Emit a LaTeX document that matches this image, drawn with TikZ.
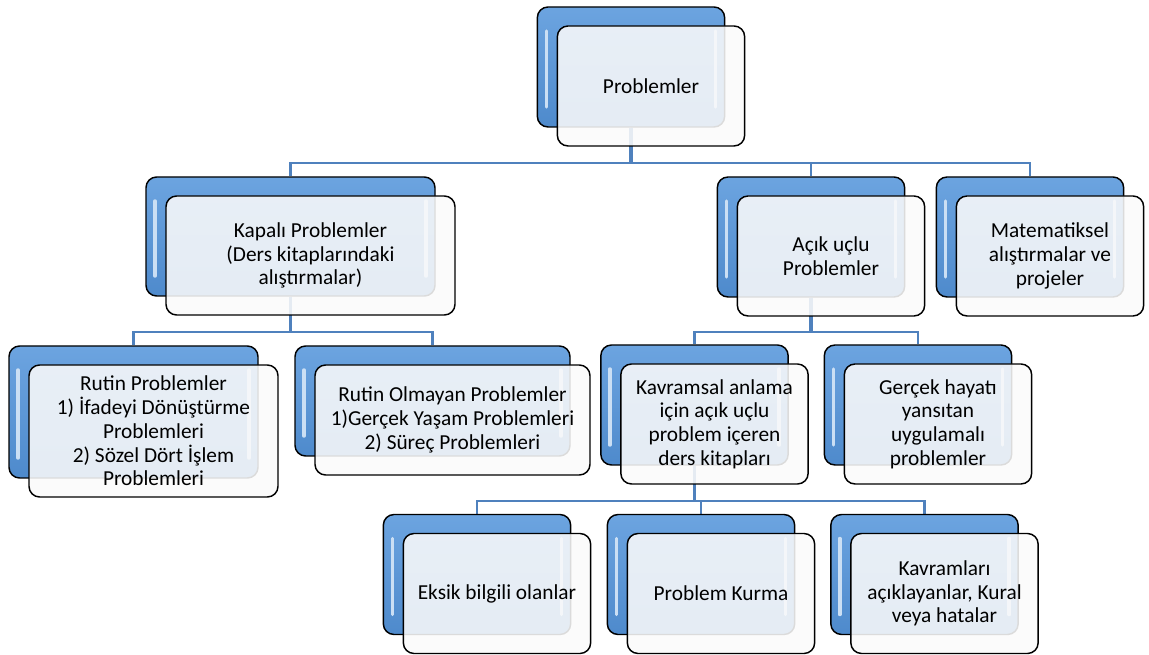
\documentclass[tikz,border=0pt]{standalone}
\usepackage{fontspec}
\setmainfont{Carlito}
\usetikzlibrary{backgrounds}
\definecolor{kutumavi}{RGB}{108,164,224}
\definecolor{kutumavikoyu}{RGB}{78,138,204}
\definecolor{hatmavi}{RGB}{79,129,189}
\begin{document}
\begin{tikzpicture}[
      x=0.75pt, y=-0.75pt,
      font=\fontsize{16}{17.8}\selectfont,
      kutu/.style={draw=black, line width=1.1pt, rounded corners=8pt,
      minimum width=140.5pt, minimum height=90pt, inner sep=2pt},
      arkakutu/.style={kutu, top color=kutumavi, bottom color=kutumavikoyu,
      path picture={
        \draw[white!65!kutumavi, line width=2.6pt, line cap=round]
        ([shift={(9,24)}]path picture bounding box.north west) --
        ([shift={(9,-20)}]path picture bounding box.south west);
        \draw[white!65!kutumavi, line width=2.6pt, line cap=round]
        ([shift={(-9,24)}]path picture bounding box.north east) --
        ([shift={(-9,-20)}]path picture bounding box.south east);}},
      onkutu/.style={kutu, fill=gray!4, fill opacity=0.88, text opacity=1,
      align=center},
      genis/.style={minimum width=216.75pt, minimum height=89.25pt},
      uzun/.style={minimum width=186.75pt, minimum height=99pt},
      yassi/.style={minimum width=206.25pt, minimum height=82.5pt},
      hat/.style={draw=hatmavi, line width=1.8pt},
      govde/.style={hat, line width=2.8pt}
    ]
    \useasboundingbox (0,0) rectangle (1149,655);

    \node[arkakutu] (problemlerA) at (631,67) {};
    \node[onkutu] (problemler) at ([shift={(20,19)}]problemlerA.center) {Problemler};

    \node[arkakutu, genis] (kapaliA) at (290.5,236.5) {};
    \node[onkutu, genis] (kapali) at ([shift={(20,19)}]kapaliA.center)
    {Kapalı Problemler\\(Ders kitaplarındaki\\alıştırmalar)};
    \node[arkakutu] (acikA) at (811,237) {};
    \node[onkutu] (acik) at ([shift={(20,19)}]acikA.center) {Açık uçlu\\Problemler};
    \node[arkakutu] (matematikA) at (1030,237) {};
    \node[onkutu] (matematik) at ([shift={(20,19)}]matematikA.center)
    {Matematiksel\\alıştırmalar ve\\projeler};

    \node[arkakutu, uzun] (rutinA) at (133.5,412) {};
    \node[onkutu, uzun] (rutin) at ([shift={(20,19)}]rutinA.center)
    {Rutin Problemler\\1) İfadeyi Dönüştürme\\Problemleri\\2) Sözel Dört İşlem\\Problemleri};
    \node[arkakutu, yassi] (rutindegilA) at (432.5,401) {};
    \node[onkutu, yassi] (rutindegil) at ([shift={(20,19)}]rutindegilA.center)
    {Rutin Olmayan Problemler\\1)Gerçek Yaşam Problemleri\\2) Süreç Problemleri};
    \node[arkakutu] (kavramsalA) at (694.5,405) {};
    \node[onkutu] (kavramsal) at ([shift={(20,19)}]kavramsalA.center)
    {Kavramsal anlama\\için açık uçlu\\problem içeren\\ders kitapları};
    \node[arkakutu] (gercekA) at (918,405) {};
    \node[onkutu] (gercek) at ([shift={(20,19)}]gercekA.center)
    {Gerçek hayatı\\yansıtan\\uygulamalı\\problemler};

    \node[arkakutu] (eksikA) at (477,574.5) {};
    \node[onkutu] (eksik) at ([shift={(20,19)}]eksikA.center) {Eksik bilgili olanlar};
    \node[arkakutu] (kurmaA) at (701,574.5) {};
    \node[onkutu] (kurma) at ([shift={(20,19)}]kurmaA.center) {Problem Kurma};
    \node[arkakutu] (kavramlarA) at (924.5,574.5) {};
    \node[onkutu] (kavramlar) at ([shift={(20,19)}]kavramlarA.center)
    {Kavramları\\açıklayanlar, Kural\\veya hatalar};

    \begin{scope}[on background layer]
    \draw[hat] (problemlerA.south) -- ++(0,35) -| (kapaliA.north);
    \draw[hat] (problemlerA.south) -- ++(0,35) -| (acikA.north);
    \draw[hat] (problemlerA.south) -- ++(0,35) -| (matematikA.north);
    \draw[govde] (problemlerA.south) -- ++(0,35);
    \draw[hat] (kapaliA.south) -- ++(0,35) -| (rutinA.north);
    \draw[hat] (kapaliA.south) -- ++(0,35) -| (rutindegilA.north);
    \draw[govde] (kapaliA.south) -- ++(0,35);
    \draw[hat] (acikA.south) -- ++(0,34) -| (kavramsalA.north);
    \draw[hat] (acikA.south) -- ++(0,34) -| (gercekA.north);
    \draw[govde] (acikA.south) -- ++(0,34);
    \draw[hat] (kavramsalA.south) -- ++(0,35) -| (eksikA.north);
    \draw[hat] (kavramsalA.south) -- ++(0,35) -| (kurmaA.north);
    \draw[hat] (kavramsalA.south) -- ++(0,35) -| (kavramlarA.north);
    \draw[govde] (kavramsalA.south) -- ++(0,35);
    \end{scope}
  \end{tikzpicture}
\end{document}
